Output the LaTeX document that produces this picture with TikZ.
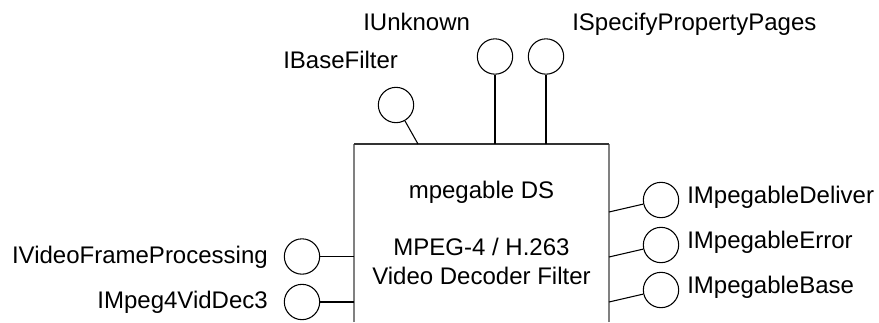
\documentclass[tikz,border=0pt]{standalone}
\usepackage{fontspec}
\setmainfont{Liberation Sans}
\usepackage{tikz}
\usetikzlibrary{positioning}

\begin{document}
\begin{tikzpicture}[
    x=0.75pt, y=-0.75pt,
    iface/.style={circle, draw=black, line width=0.8pt, minimum size=26.5pt, inner sep=0pt},
    lbl/.style={font=\fontsize{18}{21}\selectfont, inner sep=0pt},
    wire/.style={draw=black, line width=0.8pt},
    side/.style={draw=gray, line width=1.5pt},
    lid/.style={draw=black!80, line width=1.2pt}
]
\useasboundingbox (0,0) rectangle (879,322);

% Filter box (open at the bottom)
\coordinate (tl) at (354,144);
\coordinate (tr) at (609,144);
\coordinate (bl) at (354,322);
\coordinate (br) at (609,322);
\draw[side] (bl) -- (tl);
\draw[side] (br) -- (tr);
\draw[lid] (tl) -- (tr);
\node[lbl, anchor=base] (name) at (481.5,198) {mpegable DS};
\node[lbl, anchor=base] (kind) at (481.5,255) {MPEG-4 / H.263};
\node[lbl, anchor=base] (role) at (481.5,284) {Video Decoder Filter};

% Top: interfaces
\node[iface] (base) at (396,105) {};
\node[iface] (unk) at (495,56.5) {};
\node[iface] (spp) at (546,56.5) {};
\node[lbl, anchor=base west] (baselbl) at (283,68) {IBaseFilter};
\node[lbl, anchor=base west] (unklbl) at (363,30) {IUnknown};
\node[lbl, anchor=base west] (spplbl) at (572,30) {ISpecifyPropertyPages};

% Right: interfaces
\node[iface] (deliv) at (661,200) {};
\node[iface] (err) at (661,245) {};
\node[iface] (mbase) at (661,290) {};
\node[lbl, anchor=base west] (delivlbl) at (687,203) {IMpegableDeliver};
\node[lbl, anchor=base west] (errlbl) at (687,248) {IMpegableError};
\node[lbl, anchor=base west] (mbaselbl) at (687,293) {IMpegableBase};

% Left: interfaces
\node[iface] (vfp) at (302,256.5) {};
\node[iface] (vdec) at (302,302) {};
\node[lbl, anchor=base east] (vfplbl) at (268,263) {IVideoFrameProcessing};
\node[lbl, anchor=base east] (vdeclbl) at (268,308) {IMpeg4VidDec3};

% Attach points on the box
\coordinate (a1) at (418,144);
\coordinate (a2) at (495,144);
\coordinate (a3) at (546,144);
\coordinate (a4) at (609,212);
\coordinate (a5) at (609,257);
\coordinate (a6) at (609,302);
\coordinate (a7) at (354,256.5);
\coordinate (a8) at (354,302);

% Wires
\draw[wire] (a1) -- (base);
\draw[wire] (a2) -- (unk);
\draw[wire] (a3) -- (spp);
\draw[wire] (a4) -- (deliv);
\draw[wire] (a5) -- (err);
\draw[wire] (a6) -- (mbase);
\draw[wire] (a7) -- (vfp);
\draw[wire] (a8) -- (vdec);

\end{tikzpicture}
\end{document}
